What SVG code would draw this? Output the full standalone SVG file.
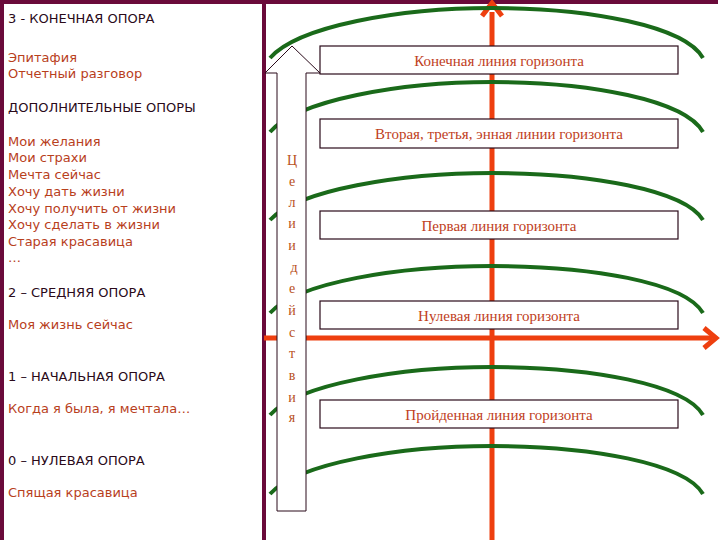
<svg xmlns="http://www.w3.org/2000/svg" width="720" height="540" viewBox="0 0 720 540">
<defs>
<style>
.l{font-family:"DejaVu Sans",sans-serif;font-size:13px;fill:#b8401c}
.h{font-family:"DejaVu Sans",sans-serif;font-size:13px;fill:#2a0a1a}
.arc{fill:none;stroke:#1a6a1a;stroke-width:4}
.box{fill:#fff;stroke:#2a0a1a;stroke-width:1.2}
.bt{font-family:"Liberation Serif",serif;font-size:15px;fill:#c0401c;text-anchor:middle}
.v{font-family:"Liberation Serif",serif;font-size:14px;fill:#b8501c;text-anchor:middle}
.red{stroke:#ee3f0f;stroke-width:5;fill:none}
</style>
</defs>
<rect width="720" height="540" fill="#fff"/>
<g id="frame" fill="none" stroke="#6a0a3a" stroke-width="4">
<path d="M2,540 V2 H718"/>
<line x1="264" y1="2" x2="264" y2="540"/>
</g>
<g id="left-text">
<text x="8" y="23" class="h" font-size="17">3 - КОНЕЧНАЯ ОПОРА</text>
<text x="8" y="62" class="l">Эпитафия</text>
<text x="8" y="78" class="l">Отчетный разговор</text>
<text x="8" y="112" class="h">ДОПОЛНИТЕЛЬНЫЕ ОПОРЫ</text>
<text x="8" y="146" class="l">Мои желания</text>
<text x="8" y="162" class="l">Мои страхи</text>
<text x="8" y="179" class="l">Мечта сейчас</text>
<text x="8" y="196" class="l">Хочу дать жизни</text>
<text x="8" y="213" class="l">Хочу получить от жизни</text>
<text x="8" y="229" class="l">Хочу сделать в жизни</text>
<text x="8" y="246" class="l">Старая красавица</text>
<text x="8" y="262" class="l">…</text>
<text x="8" y="297" class="h">2 – СРЕДНЯЯ ОПОРА</text>
<text x="8" y="329" class="l">Моя жизнь сейчас</text>
<text x="8" y="381" class="h">1 – НАЧАЛЬНАЯ ОПОРА</text>
<text x="8" y="413" class="l">Когда я была, я мечтала…</text>
<text x="8" y="465" class="h">0 – НУЛЕВАЯ ОПОРА</text>
<text x="8" y="497" class="l">Спящая красавица</text>
</g>
<g id="axes">
<line x1="492" y1="540" x2="492" y2="12" class="red"/>
<path d="M482,16 L492,3 L502,16" class="red"/>
<line x1="264" y1="338" x2="712" y2="338" class="red"/>
<path d="M704,328 L716,338 L704,348" class="red"/>
</g>
<g id="arcs">
<path class="arc" d="M270,58 C298,26 400,8 492,8 C590,8 685,26 703,58"/>
<path class="arc" d="M270,132 C298,100 400,82 492,82 C590,82 685,100 703,132"/>
<path class="arc" d="M270,220 C298,190 400,173 492,173 C590,173 685,190 703,220"/>
<path class="arc" d="M270,313 C298,282 400,266 492,266 C590,266 685,282 703,313"/>
<path class="arc" d="M270,415 C298,384 400,367 492,367 C590,367 685,384 703,415"/>
<path class="arc" d="M270,494 C298,463 400,446 492,446 C590,446 685,463 703,494"/>
</g>
<g id="goal-arrow">
<path d="M277,511 V73 H265 L292,46 L320,73 H306 V511 Z" fill="#fff" stroke="#2a0a1a" stroke-width="1"/>
<text class="v" x="292" y="165" font-size="17">Ц</text>
<text class="v" x="292" y="186">е</text>
<text class="v" x="292" y="207">л</text>
<text class="v" x="292" y="228">и</text>
<text class="v" x="292" y="250">и</text>
<text class="v" x="294" y="272">д</text>
<text class="v" x="292" y="293">е</text>
<text class="v" x="292" y="315">й</text>
<text class="v" x="292" y="337">с</text>
<text class="v" x="292" y="358">т</text>
<text class="v" x="292" y="380">в</text>
<text class="v" x="292" y="402">и</text>
<text class="v" x="292" y="422">я</text>
</g>
<g id="box1"><rect class="box" x="320" y="46" width="358" height="28"/><text class="bt" x="499" y="66">Конечная линия горизонта</text></g>
<g id="box2"><rect class="box" x="320" y="119" width="358" height="29"/><text class="bt" x="499" y="139">Вторая, третья, энная линии горизонта</text></g>
<g id="box3"><rect class="box" x="320" y="211" width="358" height="28"/><text class="bt" x="499" y="231">Первая линия горизонта</text></g>
<g id="box4"><rect class="box" x="320" y="301" width="358" height="28"/><text class="bt" x="499" y="321">Нулевая линия горизонта</text></g>
<g id="box5"><rect class="box" x="320" y="400" width="358" height="28"/><text class="bt" x="499" y="420">Пройденная линия горизонта</text></g>
</svg>
